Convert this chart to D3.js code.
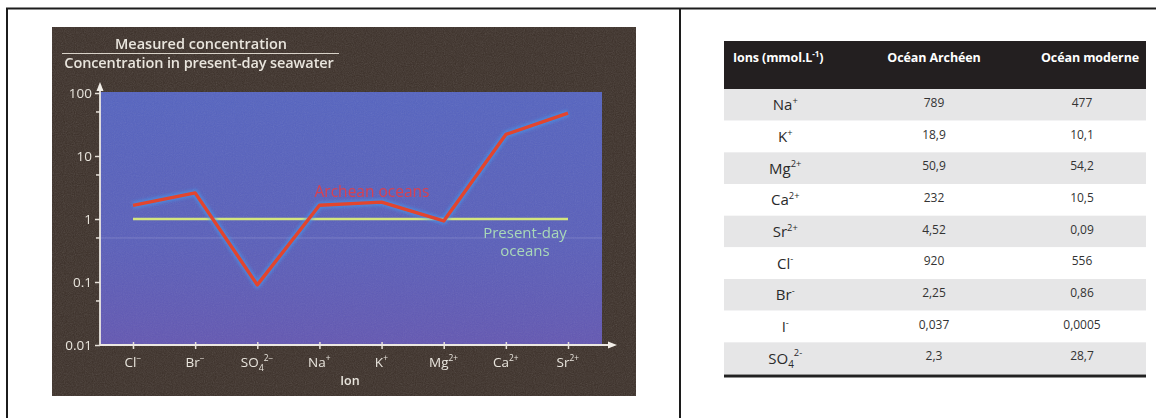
<!DOCTYPE html>
<html>
<head>
<meta charset="utf-8">
<script src="https://cdn.jsdelivr.net/npm/d3@7"></script>
<style>
  html, body { margin: 0; padding: 0; background: #ffffff; }
  svg { display: block; }
</style>
</head>
<body>
<script>
// ---------- DATA ----------
const ions = ["Cl^-", "Br^-", "SO_4^2-", "Na^+", "K^+", "Mg^2+", "Ca^2+", "Sr^2+"];
const archeanRatio = [1.65, 2.6, 0.09, 1.65, 1.85, 0.93, 22, 48];
const presentRatio = [1, 1, 1, 1, 1, 1, 1, 1];
const yTicks = [0.01, 0.1, 1, 10, 100];
const yTickLabels = ["0.01", "0.1", "1", "10", "100"];
const yMinorTicks = [0.05, 0.5, 5, 50];
const chartTitleTop = "Measured concentration";
const chartTitleBottom = "Concentration in present-day seawater";
const xAxisTitle = "Ion";
const seriesLabels = ["Archean oceans", "Present-day", "oceans"];

const tableHeaders = ["Ions (mmol.L", "Océan Archéen", "Océan moderne"];
const tableHeaderUnitSup = "-1";
const tableIons = ["Na^+", "K^+", "Mg^2+", "Ca^2+", "Sr^2+", "Cl^-", "Br^-", "I^-", "SO_4^2-"];
const tableArchean = ["789", "18,9", "50,9", "232", "4,52", "920", "2,25", "0,037", "2,3"];
const tableModern = ["477", "10,1", "54,2", "10,5", "0,09", "556", "0,86", "0,0005", "28,7"];

// ---------- HELPERS ----------
function parseIon(s) {
  let base = s, sub = "", sup = "";
  const ci = s.indexOf("^");
  if (ci >= 0) { sup = s.slice(ci + 1); base = s.slice(0, ci); }
  const ui = base.indexOf("_");
  if (ui >= 0) { sub = base.slice(ui + 1); base = base.slice(0, ui); }
  return { base, sub, sup };
}
function writeIon(textSel, s, fs, minus) {
  const p = parseIon(s);
  const sup = p.sup.replace("-", minus);
  textSel.text(null);
  textSel.append("tspan").text(p.base);
  if (p.sub) {
    textSel.append("tspan").attr("dy", fs * 0.3).attr("font-size", fs * 0.66).text(p.sub);
    if (sup) {
      textSel.append("tspan").attr("dy", -fs * 0.78).attr("font-size", fs * 0.62).text(sup);
      textSel.append("tspan").attr("dy", fs * 0.48).text("\u200a");
    }
  } else if (sup) {
    textSel.append("tspan").attr("dy", -fs * 0.42).attr("font-size", fs * 0.62).text(sup);
    textSel.append("tspan").attr("dy", fs * 0.42).text("\u200a");
  }
}

// ---------- SVG ----------
const W = 1156, H = 418;
const svg = d3.select("body").append("svg").attr("width", W).attr("height", H);
const defs = svg.append("defs");

const noise = defs.append("filter").attr("id", "grain").attr("x", 0).attr("y", 0).attr("width", "100%").attr("height", "100%");
noise.append("feTurbulence").attr("type", "fractalNoise").attr("baseFrequency", 0.9).attr("numOctaves", 2).attr("seed", 3);
noise.append("feColorMatrix").attr("type", "saturate").attr("values", 0);

const blur = defs.append("filter").attr("id", "soft");
blur.append("feGaussianBlur").attr("stdDeviation", 1.6);
const blurText = defs.append("filter").attr("id", "softText");
blurText.append("feGaussianBlur").attr("stdDeviation", 0.4);

const blueGrad = defs.append("linearGradient").attr("id", "plotBg").attr("x1", 0).attr("y1", 0).attr("x2", 0).attr("y2", 1);
blueGrad.append("stop").attr("offset", "0%").attr("stop-color", "#5564c0");
blueGrad.append("stop").attr("offset", "60%").attr("stop-color", "#5a5fba");
blueGrad.append("stop").attr("offset", "100%").attr("stop-color", "#6357b2");

// outer frame
svg.append("line").attr("x1", 6).attr("x2", W).attr("y1", 8.5).attr("y2", 8.5).attr("stroke", "#1c1c1c").attr("stroke-width", 2);
svg.append("line").attr("x1", 7).attr("x2", 7).attr("y1", 8).attr("y2", H).attr("stroke", "#1c1c1c").attr("stroke-width", 2);
svg.append("line").attr("x1", 680).attr("x2", 680).attr("y1", 8).attr("y2", H).attr("stroke", "#1c1c1c").attr("stroke-width", 2);

// ---------- LEFT: chart photo ----------
const photo = { x0: 52, y0: 27, x1: 636, y1: 396 };
const plot = { left: 100, right: 602, top: 92, bottom: 345 };
const g = svg.append("g");
g.append("rect").attr("x", photo.x0).attr("y", photo.y0).attr("width", photo.x1 - photo.x0).attr("height", photo.y1 - photo.y0).attr("fill", "#3b2f28");
g.append("rect").attr("x", photo.x0).attr("y", photo.y0).attr("width", photo.x1 - photo.x0).attr("height", photo.y1 - photo.y0)
  .attr("filter", "url(#grain)").attr("opacity", 0.18);
g.append("rect").attr("x", plot.left).attr("y", plot.top).attr("width", plot.right - plot.left).attr("height", plot.bottom - plot.top).attr("fill", "url(#plotBg)");
g.append("rect").attr("x", plot.left).attr("y", plot.top).attr("width", plot.right - plot.left).attr("height", plot.bottom - plot.top)
  .attr("filter", "url(#grain)").attr("opacity", 0.12);

const x = d3.scalePoint().domain(ions).range([133, 568]);
const y = d3.scaleLog().domain([0.01, 100]).range([plot.bottom, 93]);

const textCol = "#e9e5dd";
const chartFont = "'Open Sans', 'Noto Sans', sans-serif";

// title (fraction)
g.append("text").attr("x", 201).attr("y", 49).attr("text-anchor", "middle").attr("fill", textCol)
  .attr("font-family", chartFont).attr("font-weight", 600).attr("font-size", 14.5).attr("filter", "url(#softText)").text(chartTitleTop);
g.append("line").attr("x1", 62).attr("x2", 339).attr("y1", 53.5).attr("y2", 53.5).attr("stroke", "#d8d2c8").attr("stroke-width", 1.2);
g.append("text").attr("x", 199).attr("y", 67.5).attr("text-anchor", "middle").attr("fill", textCol)
  .attr("font-family", chartFont).attr("font-weight", 600).attr("font-size", 14.5).attr("letter-spacing", -0.1).attr("filter", "url(#softText)").text(chartTitleBottom);

// faint minor gridline
g.selectAll(".grid").data([yMinorTicks[1]]).join("line").attr("class", "grid")
  .attr("x1", plot.left).attr("x2", plot.right).attr("y1", d => y(d)).attr("y2", d => y(d))
  .attr("stroke", "#b8b8e0").attr("stroke-opacity", 0.3).attr("stroke-width", 1);

// present-day line
const line = d3.line().x((d, i) => x(ions[i])).y(d => y(d));
g.append("path").datum(presentRatio).attr("d", line).attr("fill", "none").attr("stroke", "#d4e67e").attr("stroke-width", 2.6);

// archean line with blue halo
g.append("path").datum(archeanRatio).attr("d", line).attr("fill", "none").attr("stroke", "#3f9cf0").attr("stroke-width", 7)
  .attr("stroke-opacity", 0.6).attr("filter", "url(#soft)").attr("stroke-linejoin", "round");
g.append("path").datum(archeanRatio).attr("d", line).attr("fill", "none").attr("stroke", "#e2452e").attr("stroke-width", 3.4)
  .attr("stroke-linejoin", "round");

// series labels
g.append("text").attr("x", 372).attr("y", 197).attr("text-anchor", "middle").attr("fill", "#d9404f")
  .attr("font-family", chartFont).attr("font-size", 15.5).attr("filter", "url(#softText)").text(seriesLabels[0]);
g.append("text").attr("x", 525).attr("y", 238).attr("text-anchor", "middle").attr("fill", "#a9d8b8")
  .attr("font-family", chartFont).attr("font-size", 15).attr("filter", "url(#softText)").text(seriesLabels[1]);
g.append("text").attr("x", 525).attr("y", 256).attr("text-anchor", "middle").attr("fill", "#a9d8b8")
  .attr("font-family", chartFont).attr("font-size", 15).attr("filter", "url(#softText)").text(seriesLabels[2]);

// y axis
const yAxis = g.append("g").attr("transform", `translate(${plot.left},0)`)
  .call(d3.axisLeft(y).tickValues(yTicks).tickFormat((d, i) => yTickLabels[i]).tickSize(5).tickPadding(3));
yAxis.select(".domain").remove();
yAxis.selectAll(".tick line").attr("stroke", "#e6e0d8").attr("stroke-width", 1.5);
yAxis.selectAll(".tick text").attr("fill", textCol).attr("font-family", chartFont).attr("font-size", 13.5).attr("filter", "url(#softText)");
g.selectAll(".ymin").data(yMinorTicks).join("line").attr("class", "ymin")
  .attr("x1", plot.left - 4).attr("x2", plot.left).attr("y1", d => y(d)).attr("y2", d => y(d)).attr("stroke", "#e6e0d8").attr("stroke-width", 1.5);
g.append("line").attr("x1", plot.left).attr("x2", plot.left).attr("y1", plot.bottom).attr("y2", 90).attr("stroke", "#ece8e2").attr("stroke-width", 1.8);
g.append("path").attr("d", `M${plot.left - 3.5},${91} L${plot.left},${82} L${plot.left + 3.5},${91} Z`).attr("fill", "#f2eee8");

// x axis
const xAxis = g.append("g").attr("transform", `translate(0,${plot.bottom})`)
  .call(d3.axisBottom(x).tickSize(4).tickPadding(6));
xAxis.select(".domain").remove();
xAxis.selectAll(".tick line").attr("stroke", "#e6e0d8").attr("stroke-width", 1.5).attr("y1", -3);
xAxis.selectAll(".tick text").attr("fill", textCol).attr("font-family", chartFont).attr("font-size", 13.5)
  .attr("filter", "url(#softText)").attr("dy", "0.9em")
  .each(function (d) { writeIon(d3.select(this), d, 13.5, "\u2212"); });
g.append("line").attr("x1", plot.left).attr("x2", 610).attr("y1", plot.bottom).attr("y2", plot.bottom).attr("stroke", "#ece8e2").attr("stroke-width", 1.8);
g.append("path").attr("d", `M608,${plot.bottom - 3.5} L617,${plot.bottom} L608,${plot.bottom + 3.5} Z`).attr("fill", "#f2eee8");
g.append("text").attr("x", 350).attr("y", 385).attr("text-anchor", "middle").attr("fill", textCol)
  .attr("font-family", chartFont).attr("font-weight", 600).attr("font-size", 12.5).attr("filter", "url(#softText)").text(xAxisTitle);

// ---------- RIGHT: table ----------
const t = { left: 724, right: 1146, headTop: 41, headBottom: 89, bottom: 374 };
const tf = "'Open Sans', 'Noto Sans', sans-serif";
const tg = svg.append("g");
tg.append("rect").attr("x", t.left).attr("y", t.headTop).attr("width", t.right - t.left).attr("height", t.headBottom - t.headTop).attr("fill", "#231f20");

const rowY = d3.scaleBand().domain(d3.range(tableIons.length)).range([t.headBottom, t.bottom]).paddingInner(0).paddingOuter(0);
const colX = [786, 934, 1082];
const headX = [733, 934, 1090];
const headAnchor = ["start", "middle", "middle"];

tg.selectAll(".rowbg").data(tableIons).join("rect").attr("class", "rowbg")
  .attr("x", t.left).attr("width", t.right - t.left)
  .attr("y", (d, i) => rowY(i)).attr("height", rowY.bandwidth())
  .attr("fill", (d, i) => i % 2 === 0 ? "#e6e6e7" : "#ffffff");
tg.append("line").attr("x1", t.left).attr("x2", t.right).attr("y1", t.bottom + 2).attr("y2", t.bottom + 2).attr("stroke", "#222").attr("stroke-width", 3);

tableHeaders.forEach((h, i) => {
  const txt = tg.append("text").attr("x", headX[i]).attr("y", 61.5).attr("text-anchor", headAnchor[i]).attr("fill", "#ffffff")
    .attr("font-family", tf).attr("font-weight", 700).attr("font-size", 12.5).attr("letter-spacing", -0.1);
  txt.append("tspan").text(h);
  if (i === 0) {
    txt.append("tspan").attr("dy", -4.5).attr("font-size", 8).text(tableHeaderUnitSup);
    txt.append("tspan").attr("dy", 4.5).text(")");
  }
});

tg.selectAll(".ion").data(tableIons).join("text").attr("class", "ion")
  .attr("x", colX[0]).attr("y", (d, i) => rowY(i) + rowY.bandwidth() / 2 + 5.5)
  .attr("text-anchor", "middle").attr("fill", "#2a2a2a").attr("font-family", tf).attr("font-size", 15)
  .each(function (d) { writeIon(d3.select(this), d, 15, "-"); });

tg.selectAll(".arch").data(tableArchean).join("text").attr("class", "arch")
  .attr("x", colX[1]).attr("y", (d, i) => rowY(i) + rowY.bandwidth() / 2 + 2)
  .attr("text-anchor", "middle").attr("fill", "#333").attr("font-family", tf).attr("font-size", 12).text(d => d);
tg.selectAll(".mod").data(tableModern).join("text").attr("class", "mod")
  .attr("x", colX[2]).attr("y", (d, i) => rowY(i) + rowY.bandwidth() / 2 + 2)
  .attr("text-anchor", "middle").attr("fill", "#333").attr("font-family", tf).attr("font-size", 12).text(d => d);
</script>
</body>
</html>
